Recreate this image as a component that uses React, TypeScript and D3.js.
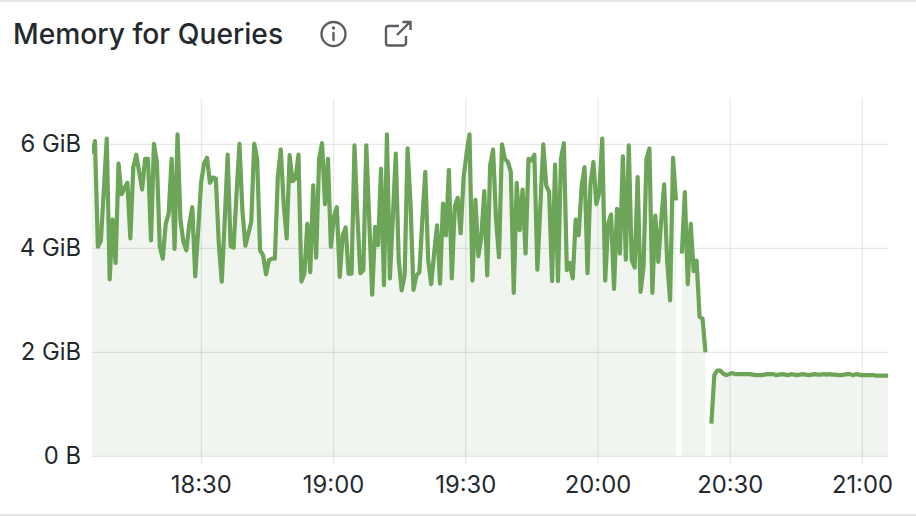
import React from "react";
import * as d3 from "d3";

const TITLE = "Memory for Queries";
const START_UTC = Date.UTC(2024, 0, 1, 18, 5, 12);
const END_UTC = Date.UTC(2024, 0, 1, 21, 5, 48);
const SAMPLE_SECONDS = 40.15;
const Y_TICKS = [0, 2, 4, 6];
const Y_LABELS = ["0 B", "2 GiB", "4 GiB", "6 GiB"];

// Memory (GiB) per sample; null marks a gap in the series.
const memoryBusy: (number | null)[] = [
  5.82, 6.06, 4.03, 4.14, 5.11, 6.11, 3.40, 4.55, 3.72, 5.63,
  5.04, 5.15, 5.26, 4.19, 5.56, 5.80, 5.47, 5.13, 5.72, 5.72,
  4.15, 6.01, 5.66, 4.03, 3.80, 4.47, 4.67, 5.72, 3.99, 6.19,
  4.54, 4.12, 3.96, 4.47, 4.79, 3.46, 4.35, 5.27, 5.63, 5.74,
  5.26, 5.36, 5.34, 4.09, 3.36, 4.54, 5.80, 4.04, 4.01, 5.05,
  6.01, 4.73, 4.05, 4.28, 4.51, 6.01, 5.72, 3.96, 3.87, 3.50,
  3.77, 3.80, 3.80, 5.37, 5.90, 4.86, 4.19, 5.79, 5.29, 5.34,
  5.80, 3.36, 3.51, 4.47, 3.54, 5.21, 3.82, 5.72, 6.02, 4.85,
  5.72, 4.03, 4.60, 4.79, 3.45, 4.25, 4.40, 3.51, 3.51, 5.98,
  4.60, 3.52, 3.58, 5.98, 4.54, 3.11, 4.41, 4.06, 5.53, 3.29,
  6.19, 3.42, 4.60, 5.82, 3.77, 3.19, 3.48, 5.92, 4.86, 3.20,
  3.48, 3.54, 4.54, 5.47, 3.77, 3.31, 3.90, 4.44, 3.32, 4.86,
  4.25, 5.51, 3.42, 4.81, 4.97, 4.29, 5.37, 5.82, 6.19, 3.38,
  4.93, 3.85, 4.22, 5.10, 3.48, 5.60, 5.90, 4.54, 3.83, 6.00,
  5.72, 5.66, 5.47, 3.14, 5.26, 4.35, 5.13, 3.90, 5.72, 5.69,
  5.80, 3.59, 4.79, 6.00, 5.21, 5.08, 3.37, 5.61, 3.37, 5.72,
  6.02, 3.58, 3.72, 3.42, 4.55, 4.25, 5.18, 5.56, 3.52, 5.24,
  5.66, 4.85, 5.08, 6.11, 3.38, 4.47, 4.65, 3.22, 4.76, 3.90,
  5.77, 3.78, 5.98, 3.77, 3.63, 5.37, 3.16, 3.64, 5.72, 5.92,
  3.14, 4.63, 3.74, 4.54, 5.23, 3.77, 3.00, 5.74, 4.92, null,
];
const memoryDraining: (number | null)[] = [
  3.90, 5.08, 3.31, 4.47, 3.56, 3.76, 2.68, 2.65, 2.00, null,
];
const memoryIdle: (number | null)[] = [
  0.63, 1.56, 1.65, 1.65, 1.59, 1.56, 1.58, 1.60, 1.58, 1.58,
  1.58, 1.58, 1.58, 1.58, 1.57, 1.56, 1.56, 1.56, 1.57, 1.58,
  1.58, 1.58, 1.56, 1.57, 1.58, 1.57, 1.56, 1.58, 1.57, 1.56,
  1.57, 1.58, 1.57, 1.56, 1.57, 1.58, 1.57, 1.57, 1.58, 1.57,
  1.58, 1.57, 1.57, 1.56, 1.56, 1.57, 1.58, 1.58, 1.56, 1.58,
  1.57, 1.56, 1.56, 1.56, 1.56, 1.56, 1.55, 1.55, 1.55, 1.55, 1.55,
];
const memory = [...memoryBusy, ...memoryDraining, ...memoryIdle];

const FONT = "Inter, 'Noto Sans', sans-serif";

export default function App() {
  const x = d3.scaleUtc().domain([START_UTC, END_UTC]).range([92, 888]);
  const y = d3.scaleLinear().domain([0, 6.89]).range([456.3, 98]);
  const points = memory.map((v, i) => ({ t: START_UTC + i * SAMPLE_SECONDS * 1000, v }));
  const defined = (d: { v: number | null }) => d.v !== null;
  const line = d3.line<{ t: number; v: number | null }>()
    .defined(defined)
    .x((d) => x(d.t))
    .y((d) => y(d.v as number));
  const area = d3.area<{ t: number; v: number | null }>()
    .defined(defined)
    .x((d) => x(d.t))
    .y0(y(0))
    .y1((d) => y(d.v as number));
  const xTicks = d3.utcMinute.every(30)!.range(new Date(START_UTC), new Date(END_UTC));
  const fmt = d3.utcFormat("%H:%M");

  return (
    <svg
      width={916}
      height={516}
      viewBox="0 0 916 516"
      style={{ position: "absolute", left: 0, top: 0, background: "#fff", fontFamily: FONT }}
    >
      <defs>
        <clipPath id="plot">
          <rect x={92} y={90} width={796} height={367} />
        </clipPath>
      </defs>
      <rect x={0} y={0} width={916} height={2} fill="#e6e6e6" />
      <rect x={0} y={514} width={916} height={2} fill="#e6e6e6" />

      <text x={13} y={44} fontSize={28.2} fontWeight={550} fill="#24292e">{TITLE}</text>

      <g fill="none" stroke="#5a5d61" strokeWidth={2.4}>
        <circle cx={333.5} cy={34} r={12} />
        <path d="M333.5 33v7" strokeLinecap="round" />
        <path d="M386 28.5a2.5 2.5 0 0 1 2.5-2.5H399M406 36v7a2.5 2.5 0 0 1-2.5 2.5H388.5A2.5 2.5 0 0 1 386 43V28.5" />
        <path d="M397 35l13-13M402.5 22H410.5V30" />
      </g>
      <circle cx={333.5} cy={28} r={1.7} fill="#5a5d61" />

      <g clipPath="url(#plot)">
        <path d={area(points) ?? ""} fill="#f1f5ef" />
      </g>

      <g stroke="#000" strokeOpacity={0.09} strokeWidth={1.2}>
        {xTicks.map((t) => (
          <line key={+t} x1={x(t)} x2={x(t)} y1={98} y2={465} />
        ))}
        {Y_TICKS.map((v) => (
          <line key={v} x1={92} x2={888.5} y1={y(v)} y2={y(v)} />
        ))}
      </g>

      <g clipPath="url(#plot)">
        <path
          d={line(points) ?? ""}
          fill="none"
          stroke="#6ca458"
          strokeWidth={4.2}
          strokeLinejoin="round"
          strokeLinecap="butt"
        />
      </g>

      <g fontSize={23.8} fill="#24292e">
        {Y_TICKS.map((v, i) => (
          <text key={v} x={81} y={y(v) + 7.5} textAnchor="end">{Y_LABELS[i]}</text>
        ))}
        {xTicks.map((t) => (
          <text key={+t} x={x(t)} y={493} textAnchor="middle">{fmt(t)}</text>
        ))}
      </g>
    </svg>
  );
}
